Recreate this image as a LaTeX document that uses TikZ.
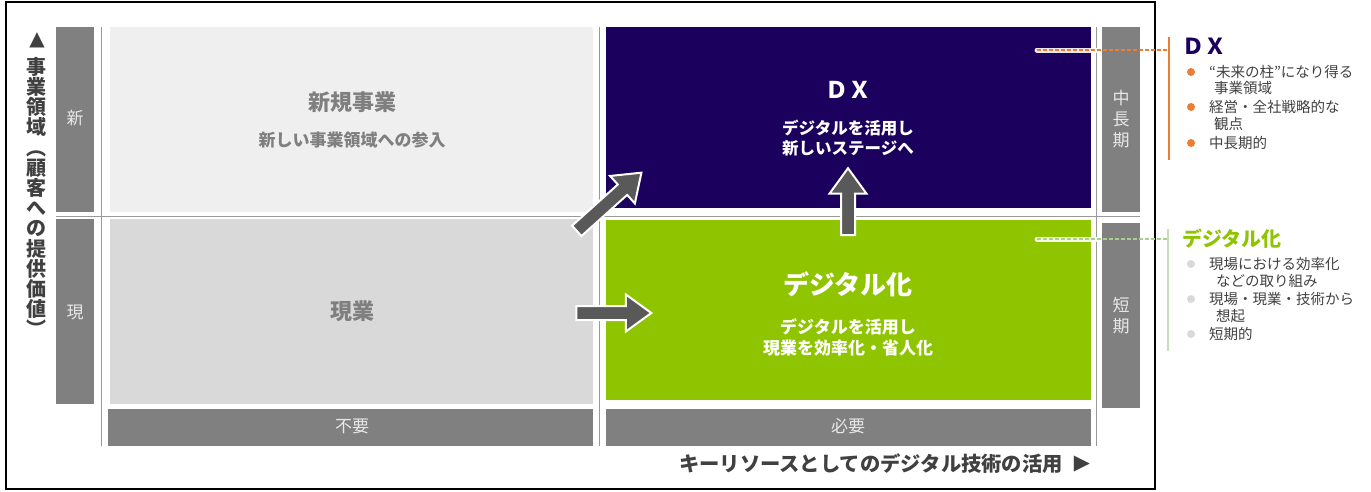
\documentclass[tikz,border=0pt]{standalone}
\usepackage{fontspec}
\setmainfont{Noto Sans CJK JP}
\newfontfamily\symfont{DejaVu Sans}
\usetikzlibrary{shapes.arrows}
\definecolor{navy}{HTML}{1B005E}
\definecolor{dgreen}{HTML}{8FC400}
\definecolor{lgray}{HTML}{EFEFEF}
\definecolor{mgray}{HTML}{D9D9D9}
\definecolor{cgray}{HTML}{808080}
\definecolor{agray}{HTML}{595959}
\definecolor{tgray}{HTML}{7F7F7F}
\definecolor{dtext}{HTML}{404040}
\definecolor{ctext}{HTML}{E8E8E8}
\definecolor{orng}{HTML}{ED7D31}
\definecolor{lgreen}{HTML}{C5E0B4}
\definecolor{dgline}{HTML}{A9D18E}
\newcommand\myfs[2]{\fontsize{#1}{#2}\selectfont}
\begin{document}
\begin{tikzpicture}[x=1pt,y=-1pt,
  qbox/.style={anchor=north west,inner sep=0,outer sep=0,draw=none},
  colbox/.style={qbox,fill=cgray,minimum width=38},
  bar/.style={qbox,fill=cgray,minimum height=37,minimum width=485},
  coltxt/.style={text=ctext,font=\myfs{17}{21},align=center,inner sep=0},
  ttl/.style={text=tgray,font=\bfseries\myfs{22}{26},inner sep=0},
  sub/.style={font=\bfseries\myfs{16.5}{20.5},align=center,inner sep=0},
  grid/.style={draw=gray!80,line width=1},
  blk/.style={single arrow,fill=agray,draw=white,line width=2,inner sep=0,
    inner ysep=6,single arrow head extend=11.5,single arrow tip angle=72,
    single arrow head indent=0},
  note/.style={anchor=west,text=dtext,font=\myfs{14.5}{17},inner sep=0},
  dot/.style={circle,inner sep=0,minimum size=8}
]
\useasboundingbox (0,0) rectangle (1371,491);
% frame
\draw[line width=2.5,black] (6,2) rectangle (1155,489);
% quadrants
\node[qbox,fill=lgray,minimum width=483,minimum height=185] (new) at (110,27) {};
\node[qbox,fill=mgray,minimum width=483,minimum height=185] (cur) at (110,219) {};
\node[qbox,fill=navy,minimum width=485,minimum height=181] (dx) at (606,27) {};
\node[qbox,fill=dgreen,minimum width=485,minimum height=180] (dig) at (606,220) {};
% columns
\node[colbox,minimum height=185] (cNew) at (56,27) {};
\node[colbox,minimum height=185] (cCur) at (56,219) {};
\node[colbox,minimum height=185] (cMid) at (1102,27) {};
\node[colbox,minimum height=185] (cShort) at (1102,223) {};
\node[coltxt] (tNew) at (75,118) {新};
\node[coltxt] (tCur) at (75,312) {現};
\node[coltxt] (tMid) at (1121,119) {中\\長\\期};
\node[coltxt] (tShort) at (1121,316) {短\\期};
% bars
\node[bar] (bNo) at (108,409) {};
\node[bar] (bYes) at (606,409) {};
\node[coltxt] (tNo) at (352,426) {不要};
\node[coltxt] (tYes) at (848,426) {必要};
% grid lines
\draw[grid] (101,27) -- (101,446);
\draw[grid] (599,27) -- (599,446);
\draw[grid] (1096,27) -- (1096,446);
\draw[grid] (56,216) -- (1140,216);
% quadrant texts
\node[ttl] (newT) at (352,102) {新規事業};
\node[sub,text=tgray,font=\bfseries\myfs{17}{20}] (newS) at (352,140) {新しい事業領域への参入};
\node[ttl] (curT) at (352,311) {現業};
\node[text=white,font=\bfseries\myfs{23}{26},inner sep=0] (dxT) at (848,90) {ＤＸ};
\node[sub,text=white] (dxS) at (848,138) {デジタルを活用し\\新しいステージへ};
\node[text=white,font=\bfseries\myfs{26}{30},inner sep=0] (digT) at (848,284) {デジタル化};
\node[sub,text=white,font=\bfseries\myfs{17}{21}] (digS) at (848,337) {デジタルを活用し\\現業を効率化・省人化};
% block arrows
\node[blk,minimum height=87,rotate=42] (aDiag) at (605.5,205) {};
\node[blk,minimum height=75] (aRight) at (609,313) {};
\node[blk,minimum height=67,rotate=90] (aUp) at (848,206.5) {};
% axes
\node[text=dtext,font=\symfont\myfs{20}{22},inner sep=0] (triUp) at (37,40) {▲};
\node[text=dtext,font=\bfseries\myfs{20}{20.2},align=center,inner sep=0] (yaxis) at (37,197)
  {事\\業\\領\\域\\︵\\顧\\客\\へ\\の\\提\\供\\価\\値\\︶};
\node[anchor=east,text=dtext,font=\bfseries\myfs{20.3}{22},inner sep=0] (xaxis) at (1063,464)
  {キーリソースとしてのデジタル技術の活用};
\node[text=dtext,font=\symfont\myfs{21}{22},inner sep=0] (triR) at (1082,464) {▶};
% right annotations: DX
\coordinate (dxA) at (1037,50);
\coordinate (dxB) at (1168,50);
\draw[white,line width=5,line cap=round,opacity=0.9] (dxA) -- (1098,50);
\draw[orng,line width=1.3,dash pattern=on 4pt off 2pt] (dxA) -- (dxB);
\draw[orng,line width=2] (1169,37) -- (1169,160);
\node[anchor=west,text=navy,font=\bfseries\myfs{22}{24},inner sep=0] (dxL) at (1182,46) {ＤＸ};
\node[dot,fill=orng] (o1) at (1191,72) {};
\node[dot,fill=orng] (o2) at (1191,107) {};
\node[dot,fill=orng] (o3) at (1191,143) {};
\node[note] (n1) at (1209,72) {“未来の柱”になり得る};
\node[note] (n1b) at (1214,88) {事業領域};
\node[note] (n2) at (1209,107) {経営・全社戦略的な};
\node[note] (n2b) at (1214,124) {観点};
\node[note] (n3) at (1209,143) {中長期的};
% right annotations: digital
\coordinate (dgA) at (1037,239);
\coordinate (dgB) at (1167,239);
\draw[white,line width=5,line cap=round,opacity=0.9] (dgA) -- (1098,239);
\draw[dgline,line width=1.3,dash pattern=on 4pt off 2pt] (dgA) -- (dgB);
\draw[lgreen,line width=2] (1168,229) -- (1168,351);
\node[anchor=west,text=dgreen,font=\bfseries\myfs{20}{24},inner sep=0] (digL) at (1182,239) {デジタル化};
\node[dot,fill=mgray] (g1) at (1191,264) {};
\node[dot,fill=mgray] (g2) at (1191,299) {};
\node[dot,fill=mgray] (g3) at (1191,334) {};
\node[note] (m1) at (1209,264) {現場における効率化};
\node[note] (m1b) at (1216,281) {などの取り組み};
\node[note] (m2) at (1209,299) {現場・現業・技術から};
\node[note] (m2b) at (1216,316) {想起};
\node[note] (m3) at (1209,334) {短期的};
\end{tikzpicture}
\end{document}
